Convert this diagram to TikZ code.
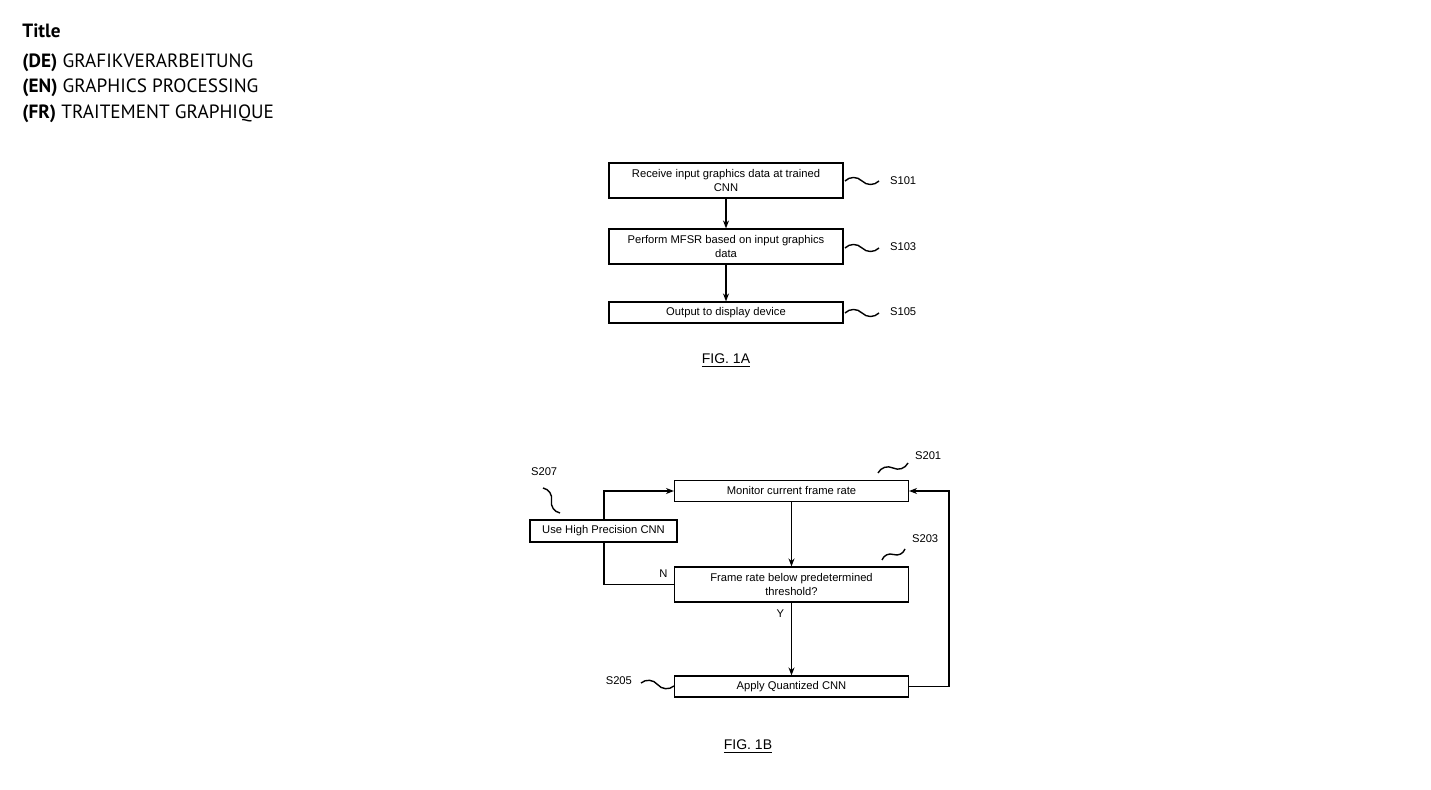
\documentclass[tikz,border=0pt]{standalone}
\usepackage{fontspec}
\setmainfont{Liberation Sans}
\newfontfamily\titlefont{PT Sans}
\usetikzlibrary{arrows.meta,calc}
\tikzset{
  stepbox/.style={draw, line width=0.55pt, minimum width=117pt, align=center, inner sep=1pt, font=\fontsize{5.6}{6.6}\selectfont},
  lbl/.style={font=\fontsize{5.6}{6.4}\selectfont},
  flow/.style={line width=0.7pt, -{Stealth[length=4pt,width=3pt]}},
  squig/.style={line width=0.7pt},
  hdr/.style={anchor=west, inner sep=0pt, font=\titlefont\fontsize{9.6}{11}\selectfont}
}
\newcommand{\wave}[2]{\draw[squig] (#1) to[bend left=45] ($(#1)!0.5!(#2)$) to[bend right=45] (#2);}
\begin{document}
\begin{tikzpicture}[x=0.5pt, y=-0.5pt]
  \useasboundingbox (0,0) rectangle (1431,790);
  % header
  \node[hdr] (title) at (22,31) {\textbf{Title}};
  \node[hdr] (de) at (22,63) {\textbf{(DE)} GRAFIKVERARBEITUNG};
  \node[hdr] (en) at (22,88) {\textbf{(EN)} GRAPHICS PROCESSING};
  \node[hdr] (fr) at (22,114) {\textbf{(FR)} TRAITEMENT GRAPHIQUE};
  % fig 1A
  \node[stepbox, minimum height=17.5pt] (s101) at (726,180.5) {Receive input graphics data at trained\\CNN};
  \node[stepbox, minimum height=17.5pt] (s103) at (726,246.5) {Perform MFSR based on input graphics\\data};
  \node[stepbox, minimum height=10.5pt] (s105) at (726,312.5) {Output to display device};
  \draw[flow] (s101) -- (s103);
  \draw[flow] (s103) -- (s105);
  \node[lbl, anchor=west] (l101) at (883,181) {S101};
  \node[lbl, anchor=west] (l103) at (883,247) {S103};
  \node[lbl, anchor=west] (l105) at (883,312) {S105};
  \wave{845,181}{879,181}
  \wave{845,248}{879,248}
  \wave{845,313}{879,313}
  \node[lbl, font=\fontsize{7}{8}\selectfont] (fig1a) at (726,361) {\underline{FIG. 1A}};
  % fig 1B
  \node[stepbox, minimum height=10.5pt] (s201) at (791.5,491) {Monitor current frame rate};
  \node[stepbox, minimum height=17.5pt] (s203) at (791.5,584.5) {Frame rate below predetermined\\threshold?};
  \node[stepbox, minimum height=10.5pt] (s205) at (791.5,686.5) {Apply Quantized CNN};
  \node[stepbox, minimum width=73.5pt, minimum height=11pt] (s207) at (603.5,531) {Use High Precision CNN};
  \coordinate (nturn) at (604,584.5);
  \coordinate (top207) at (604,520);
  \draw[flow] (s201) -- (s203);
  \draw[flow] (s203) -- node[lbl, pos=0.15, left] (y) {Y} (s205);
  \draw[line width=0.7pt] (s203.west) -- node[lbl, pos=0.15, above] (n) {N} (nturn) -- (s207.south -| nturn);
  \draw[flow] (top207) |- (s201.west);
  \draw[flow] (s205.east) -- (949,686.5) |- (s201.east);
  \node[lbl, anchor=west] (l201) at (908,456) {S201};
  \node[lbl, anchor=west] (l203) at (905,539) {S203};
  \node[lbl, anchor=east] (l205) at (639,681) {S205};
  \node[lbl, anchor=west] (l207) at (524,472) {S207};
  \wave{878,473}{908,463}
  \wave{882,560}{905,549}
  \wave{641,683}{674,686}
  \wave{543,488}{560,513}
  \node[lbl, font=\fontsize{7}{8}\selectfont] (fig1b) at (748,747) {\underline{FIG. 1B}};
\end{tikzpicture}
\end{document}
